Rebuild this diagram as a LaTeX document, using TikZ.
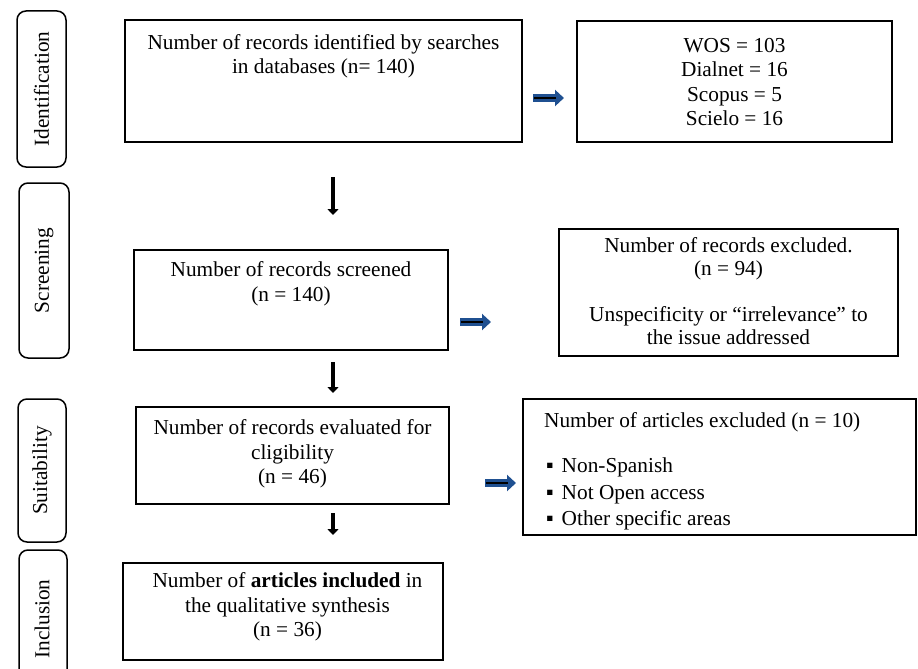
\documentclass[tikz,border=0pt]{standalone}
\usepackage{fontspec}
\setmainfont{Liberation Serif}
\usetikzlibrary{arrows.meta}
\definecolor{arrowblue}{RGB}{31,80,145}
\begin{document}
\begin{tikzpicture}[x=1pt,y=-1pt,
  box/.style={draw, line width=1.8pt, inner sep=0pt, outer sep=0pt, anchor=north west},
  side/.style={draw, line width=1.5pt, rounded corners=9pt, inner sep=0pt, outer sep=0pt, anchor=north west},
  txt/.style={align=center, inner sep=0pt, font=\fontsize{21.3}{24.5}\selectfont},
  ltxt/.style={align=left, inner sep=0pt, anchor=west, font=\fontsize{21.3}{26.5}\selectfont},
  sidetxt/.style={rotate=90, inner sep=0pt, font=\fontsize{21.3}{24.5}\selectfont},
  down/.style={line width=4pt, -{Triangle[width=11pt,length=6pt]}},
  bluearrow/.style={draw=arrowblue, line width=8pt, -{Triangle[width=16pt,length=9pt]},
    postaction={draw=black, line width=1.6pt, -, shorten >=8pt, shorten <=1pt}}
]
\useasboundingbox (0,0) rectangle (918,669);
\clip (0,0) rectangle (918,669);

% side labels
\node[side, minimum width=49pt, minimum height=156pt] (sid) at (17,11) {};
\node[sidetxt] (sidt) at (sid.center) {Identification};
\node[side, minimum width=50pt, minimum height=175pt] (sscr) at (19,183) {};
\node[sidetxt] (sscrt) at (sscr.center) {Screening};
\node[side, minimum width=48pt, minimum height=143pt] (ssui) at (18,399) {};
\node[sidetxt] (ssuit) at (ssui.center) {Suitability};
\node[side, minimum width=48pt, minimum height=150pt] (sinc) at (19,550) {};
\node[sidetxt] (sinct) at (42,619) {Inclusion};

% identification
\node[box, minimum width=397pt, minimum height=122pt] (b1) at (125,20) {};
\node[txt] (b1t) at (323.5,56.5) {Number of records identified by searches\\in databases (n= 140)};
\node[box, minimum width=315pt, minimum height=121pt] (b2) at (577,21) {};
\node[txt] (b2t) at (734.5,82) {WOS = 103\\Dialnet = 16\\Scopus = 5\\Scielo = 16};

% screening
\node[box, minimum width=314pt, minimum height=100pt] (b3) at (134,250) {};
\node[txt] (b3t) at (291,284) {Number of records screened\\(n = 140)};
\node[box, minimum width=339pt, minimum height=127pt] (b4) at (559,229) {};
\node[txt, font=\fontsize{21.3}{23}\selectfont] (b4t) at (728.5,291) {Number of records excluded.\\(n = 94)\\[23pt]Unspecificity or “irrelevance” to\\the issue addressed};

% suitability
\node[box, minimum width=313pt, minimum height=97pt] (b5) at (136,407) {};
\node[txt] (b5t) at (292.5,454) {Number of records evaluated for\\cligibility\\(n = 46)};
\node[box, minimum width=393pt, minimum height=136pt] (b6) at (523,399) {};
\node[ltxt] (b6h) at (544,422) {Number of articles excluded (n = 10)};
\node[ltxt] (b6l) at (546,494) {▪\hspace{8pt}Non-Spanish\\▪\hspace{8pt}Not Open access\\▪\hspace{8pt}Other specific areas};

% inclusion
\node[box, minimum width=320pt, minimum height=97pt] (b7) at (123,563) {};
\node[txt] (b7t) at (287.5,607) {Number of \textbf{articles included} in\\the qualitative synthesis\\(n = 36)};

% arrows
\coordinate (d1s) at (333,177); \coordinate (d1e) at (333,215);
\coordinate (d2s) at (333,362); \coordinate (d2e) at (333,393);
\coordinate (d3s) at (333,513); \coordinate (d3e) at (333,535);
\draw[down] (d1s) -- (d1e);
\draw[down] (d2s) -- (d2e);
\draw[down] (d3s) -- (d3e);

\coordinate (r1s) at (533,98); \coordinate (r1e) at (564,98);
\coordinate (r2s) at (460,322); \coordinate (r2e) at (491,322);
\coordinate (r3s) at (485,483); \coordinate (r3e) at (516,483);
\draw[bluearrow] (r1s) -- (r1e);
\draw[bluearrow] (r2s) -- (r2e);
\draw[bluearrow] (r3s) -- (r3e);
\end{tikzpicture}
\end{document}
